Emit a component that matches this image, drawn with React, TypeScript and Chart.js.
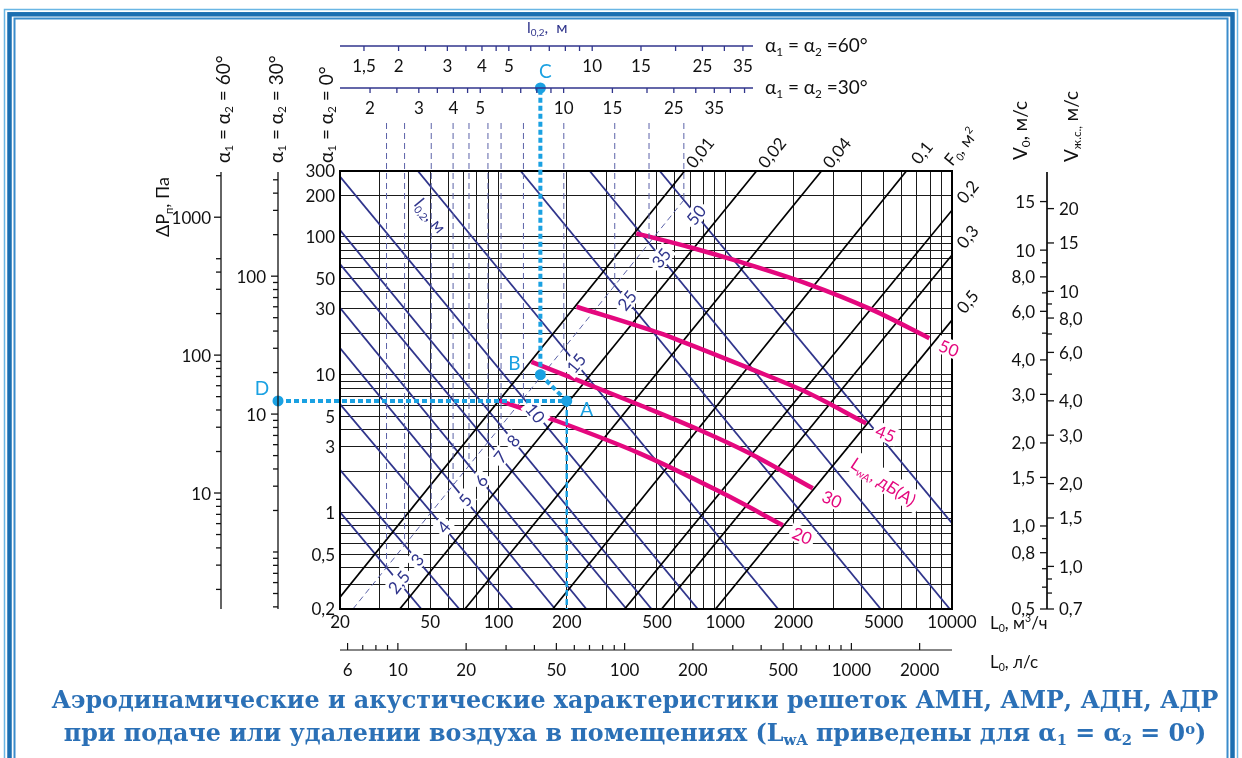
import React, { useEffect, useRef } from 'react';
import { Chart, registerables } from 'chart.js';

Chart.register(...registerables);

// ================= DATA =================
// Main axes: L0, m3/h (x) and ΔP, Pa (y)
const flowRange = [20, 10000];
const pressureRange = [0.2, 300];
const flowGrid = [20, 30, 40, 50, 60, 70, 80, 90, 100, 200, 300, 400, 500, 600, 700, 800, 900, 1000, 2000, 3000, 4000, 5000, 6000, 7000, 8000, 9000, 10000];
const pressureGrid = [0.2, 0.3, 0.4, 0.5, 0.6, 0.7, 0.8, 0.9, 1, 2, 3, 4, 5, 6, 7, 8, 9, 10, 20, 30, 40, 50, 60, 70, 80, 90, 100, 200, 300];
const flowLabels = [20, 50, 100, 200, 500, 1000, 2000, 5000, 10000];
const pressureLabels = [0.2, 0.5, 1, 3, 5, 10, 30, 50, 100, 200, 300];

// L0, l/s axis
const flowLpsRange = [5.556, 2778];
const flowLpsTicks = [6, 7, 8, 9, 10, 20, 30, 40, 50, 60, 70, 80, 90, 100, 200, 300, 400, 500, 600, 700, 800, 900, 1000, 2000];
const flowLpsLabels = [6, 10, 20, 50, 100, 200, 500, 1000, 2000];

// Free area lines F0, m2 (two points [L0, ΔP] each)
const areaValues = [0.01, 0.02, 0.04, 0.1, 0.2, 0.3, 0.5];
const areaFrom = [[20, 0.244], [36.7, 0.2], [71.1, 0.2], [173.5, 0.2], [360, 0.2], [524, 0.2], [906, 0.2]];
const areaTo = [[662, 300], [1374, 300], [2657, 300], [6295, 300], [10000, 156], [10000, 73.8], [10000, 24.9]];

// Throw distance lines l0,2, m (two points [L0, ΔP] each)
const throwValues = [2.5, 3, 4, 5, 6, 7, 8, 10, 15, 25, 35, 50];
const throwFrom = [[20, 1.01], [20, 2.04], [20, 6.13], [20, 15.6], [20, 30.5], [20, 63.5], [20, 112], [20, 273], [44.1, 300], [125.2, 300], [252.5, 300], [514, 300]];
const throwTo = [[45.7, 0.2], [67.2, 0.2], [115.7, 0.2], [177.8, 0.2], [244, 0.2], [367, 0.2], [473, 0.2], [757, 0.2], [1711, 0.2], [4850, 0.2], [9780, 0.2], [10000, 0.84]];
const throwScaleLine = [[22.8, 0.2], [668, 191]];

// Sound power level curves LwA, dB(A)
const noiseLevels = [50, 45, 30, 20];
const noise50 = [[405, 106], [718, 83], [1156, 66], [2275, 46], [4456, 29.5], [7943, 18.4]];
const noise45 = [[221, 31.1], [514, 20.0], [650, 17.3], [1280, 11.1], [2275, 7.49], [4180, 4.44]];
const noise30 = [[139.8, 12.4], [419, 6.03], [771, 3.97], [1280, 2.69], [2432, 1.5]];
const noise20 = [[101, 6.48], [168, 4.83], [419, 2.69], [944, 1.42], [1795, 0.81]];
const noiseCurves = [noise50, noise45, noise30, noise20];
const noiseTitleAt = [4980, 1.67];
const throwTitleAt = [50, 142];

// Worked example
const pointA = [200, 6.45];
const pointB = [153, 10];

// Top l0,2 scales
const throw60Range = [1.229, 199];
const throw60Ticks = [1.5, 2, 2.5, 3, 3.5, 4, 4.5, 5, 6, 7, 8, 9, 10, 15, 20, 25, 30, 35];
const throw60Labels = [1.5, 2, 3, 4, 5, 10, 15, 25, 35];
const throw30Range = [1.558, 252.5];
const throw30Ticks = [2, 2.5, 3, 3.5, 4, 4.5, 5, 6, 7, 8, 9, 10, 15, 20, 25, 30, 35, 40, 45];
const throw30Labels = [2, 3, 4, 5, 10, 15, 25, 35];

// Left ΔP scales for α = 60° and 30°
const p60Range = [1.442, 2163];
const p60Ticks = [2000, 1000, 500, 400, 300, 200, 100, 90, 80, 70, 60, 50, 40, 30, 20, 10, 9, 8, 7, 6, 5, 4, 3, 2];
const p60Labels = [1000, 100, 10];
const p30Range = [0.386, 579];
const p30Ticks = [500, 400, 300, 200, 100, 90, 80, 70, 60, 50, 40, 30, 20, 10, 9, 8, 7, 6, 5, 4, 3, 2, 1, 0.9, 0.8, 0.7, 0.6, 0.5, 0.4];
const p30Labels = [100, 10];

// Right velocity scales
const v0Range = [0.5, 19.36];
const v0Ticks = [15, 10, 9, 8, 7, 6, 5, 4, 3, 2, 1.5, 1, 0.9, 0.8, 0.7, 0.6, 0.5];
const v0Labels = [15, 10, 8, 6, 4, 3, 2, 1.5, 1, 0.8, 0.5];
const vjRange = [0.708, 27.4];
const vjTicks = [20, 15, 10, 9, 8, 7, 6, 5, 4, 3, 2, 1.5, 1, 0.9, 0.8, 0.7];
const vjLabels = [20, 15, 10, 8, 6, 4, 3, 2, 1.5, 1, 0.7];

// ================= STYLE =================
const FONT = 'Lato, "Noto Sans", sans-serif';
const NAVY = '#30358c';
const DASHNAVY = '#5b62a8';
const MAGENTA = '#e4087e';
const CYAN = '#1aa1e2';
const INK = '#111';

const comma = (v: number) => String(v).replace('.', ',');
const oneDec = (v: number) => (v < 10 ? v.toFixed(1).replace('.', ',') : String(v));

type Seg = [string, number?];

function drawRich(ctx: any, segs: Seg[], x: number, y: number, size: number, align: string, color: string) {
  const parts = segs.map(([t, k]) => {
    const sz = k ? size * 0.62 : size;
    ctx.font = `${sz}px ${FONT}`;
    return { t, k: k || 0, sz, w: ctx.measureText(t).width };
  });
  const total = parts.reduce((a, p) => a + p.w, 0);
  let cx = align === 'left' ? x : align === 'center' ? x - total / 2 : x - total;
  ctx.fillStyle = color;
  ctx.textAlign = 'left';
  ctx.textBaseline = 'alphabetic';
  for (const p of parts) {
    ctx.font = `${p.sz}px ${FONT}`;
    const dy = p.k === 1 ? size * 0.2 : p.k === 2 ? -size * 0.42 : 0;
    ctx.fillText(p.t, cx, y + dy);
    cx += p.w;
  }
  return total;
}

function boxedText(ctx: any, text: string, cx: number, cy: number, ang: number, size: number, color: string, box = true) {
  ctx.save();
  ctx.translate(cx, cy);
  ctx.rotate(ang);
  ctx.font = `${size}px ${FONT}`;
  const w = ctx.measureText(text).width;
  if (box) {
    ctx.fillStyle = '#fff';
    ctx.fillRect(-w / 2 - 3, -size * 0.52, w + 6, size * 1.04);
  }
  ctx.fillStyle = color;
  ctx.textAlign = 'center';
  ctx.textBaseline = 'middle';
  ctx.fillText(text, 0, 1);
  ctx.restore();
}

function seg(ctx: any, x1: number, y1: number, x2: number, y2: number) {
  ctx.beginPath();
  ctx.moveTo(x1, y1);
  ctx.lineTo(x2, y2);
  ctx.stroke();
}

function intersect(p1: any, p2: any, q1: any, q2: any) {
  const rx = p2.x - p1.x, ry = p2.y - p1.y, sx = q2.x - q1.x, sy = q2.y - q1.y;
  const den = rx * sy - ry * sx;
  const t = ((q1.x - p1.x) * sy - (q1.y - p1.y) * sx) / den;
  return { x: p1.x + t * rx, y: p1.y + t * ry };
}

function unit(p1: any, p2: any) {
  const dx = p2.x - p1.x, dy = p2.y - p1.y;
  const l = Math.hypot(dx, dy);
  return { x: dx / l, y: dy / l };
}

// layout constants (pixels)
const T60_Y = 46;
const T30_Y = 88;
const TOP_END_X = 753;
const LPS_Y = 650;
const P60_X = 221;
const P30_X = 278;
const V_X = 1047;

const nomoPlugin = {
  id: 'nomo',
  beforeDraw(chart: any) {
    const ctx = chart.ctx;
    const W = chart.width;
    ctx.save();
    ctx.fillStyle = '#fff';
    ctx.fillRect(0, 0, W, chart.height);
    // page frame
    ctx.strokeStyle = '#6ab6e4';
    ctx.lineWidth = 1.5;
    ctx.strokeRect(4.5, 9.5, W - 9, 800);
    ctx.strokeStyle = '#1b6fb1';
    ctx.lineWidth = 4.5;
    ctx.strokeRect(9.5, 14.3, W - 19, 800);
    ctx.strokeStyle = '#3a8ccb';
    ctx.lineWidth = 2;
    ctx.strokeRect(14.5, 18.5, W - 29, 800);
    ctx.restore();
  },
  afterDraw(chart: any) {
    const ctx = chart.ctx;
    const ca = chart.chartArea;
    const S = chart.scales;
    const X = (v: number) => S.x.getPixelForValue(v);
    const Y = (v: number) => S.y.getPixelForValue(v);
    const pt = (a: number[]) => ({ x: X(a[0]), y: Y(a[1]) });
    ctx.save();

    // frame of the plot
    ctx.strokeStyle = '#000';
    ctx.lineWidth = 2;
    ctx.strokeRect(ca.left, ca.top, ca.right - ca.left, ca.bottom - ca.top);

    // throw-distance scale: dashed verticals + labels
    const q1 = pt(throwScaleLine[0]);
    const q2 = pt(throwScaleLine[1]);
    const diagAng = Math.atan2(q2.y - q1.y, q2.x - q1.x);
    const inter = throwValues.map((v, i) => intersect(pt(throwFrom[i]), pt(throwTo[i]), q1, q2));
    ctx.strokeStyle = DASHNAVY;
    ctx.lineWidth = 1;
    ctx.setLineDash([6, 4]);
    inter.forEach((I) => seg(ctx, I.x, ca.top - 48, I.x, I.y));
    ctx.setLineDash([]);
    throwValues.forEach((v, i) => {
      const d = unit(pt(throwFrom[i]), pt(throwTo[i]));
      const I = inter[i];
      const ang = v === 10 ? Math.atan2(d.y, d.x) : diagAng;
      boxedText(ctx, comma(v), I.x + d.x * 19, I.y + d.y * 19, ang, 17, NAVY);
    });

    // l0,2 title along a throw line
    {
      const d = unit(pt(throwFrom[8]), pt(throwTo[8]));
      const c = pt(throwTitleAt);
      ctx.save();
      ctx.translate(c.x, c.y);
      ctx.rotate(Math.atan2(d.y, d.x));
      drawRich(ctx, [['l'], ['0,2', 1], [', м']], 0, 6, 17, 'center', NAVY);
      ctx.restore();
    }

    // F0 labels at the upper ends of the area lines
    areaValues.forEach((v, i) => {
      const a = pt(areaFrom[i]);
      const b = pt(areaTo[i]);
      const d = unit(a, b);
      boxedText(ctx, comma(v), b.x + d.x * 24, b.y + d.y * 24, Math.atan2(d.y, d.x), 17, INK, false);
    });
    ctx.save();
    ctx.translate(ca.right + 9, ca.top - 24);
    ctx.rotate(-0.88);
    drawRich(ctx, [['F'], ['0', 1], [', м'], ['2', 2]], 0, 6, 17, 'center', INK);
    ctx.restore();

    // noise labels
    noiseCurves.forEach((c, i) => {
      const a = pt(c[c.length - 2]);
      const b = pt(c[c.length - 1]);
      const d = unit(a, b);
      boxedText(ctx, String(noiseLevels[i]), b.x + d.x * 22, b.y + d.y * 22, Math.atan2(d.y, d.x) * 0.8, 17, MAGENTA);
    });
    {
      const c = pt(noiseTitleAt);
      ctx.save();
      ctx.translate(c.x, c.y);
      ctx.rotate(0.58);
      ctx.font = `17px ${FONT}`;
      const w = ctx.measureText('LwA, дБ(A)').width;
      ctx.fillStyle = '#fff';
      ctx.fillRect(-w / 2 - 3, -12, w + 6, 22);
      drawRich(ctx, [['L'], ['wA', 1], [', дБ(А)']], 0, 6, 17, 'center', MAGENTA);
      ctx.restore();
    }

    // worked example (A, B, C, D)
    const A = pt(pointA);
    const B = pt(pointB);
    const C = { x: B.x, y: T30_Y };
    const D = { x: P30_X, y: A.y };
    ctx.strokeStyle = CYAN;
    ctx.lineWidth = 2.5;
    ctx.setLineDash([6, 3]);
    seg(ctx, A.x, A.y, A.x, ca.bottom);
    ctx.lineWidth = 4;
    ctx.setLineDash([5, 3]);
    seg(ctx, D.x, D.y, A.x, A.y);
    seg(ctx, A.x, A.y, B.x, B.y);
    seg(ctx, B.x, B.y, C.x, C.y);
    ctx.setLineDash([]);
    ctx.fillStyle = CYAN;
    [A, B, C, D].forEach((p) => {
      ctx.beginPath();
      ctx.arc(p.x, p.y, 5.5, 0, Math.PI * 2);
      ctx.fill();
    });
    ctx.font = `19px ${FONT}`;
    ctx.textAlign = 'center';
    ctx.textBaseline = 'middle';
    ctx.fillText('A', A.x + 20, A.y + 9);
    ctx.fillText('B', B.x - 26, B.y - 11);
    ctx.fillText('C', C.x + 5, C.y - 16);
    ctx.fillText('D', D.x - 16, D.y - 12);

    // ---------- external axes ----------
    ctx.fillStyle = INK;
    ctx.strokeStyle = INK;
    ctx.lineWidth = 1.2;
    ctx.font = `17px ${FONT}`;

    // main ΔP labels
    ctx.textAlign = 'right';
    ctx.textBaseline = 'middle';
    pressureLabels.forEach((v) => ctx.fillText(comma(v), ca.left - 5, Y(v) + 1));
    // main L0 labels
    ctx.textAlign = 'center';
    flowLabels.forEach((v) => ctx.fillText(String(v), X(v), ca.bottom + 14));

    // L0 l/s axis
    const sl = S.lps;
    seg(ctx, ca.left, LPS_Y, ca.right, LPS_Y);
    flowLpsTicks.forEach((v) => {
      const x = sl.getPixelForValue(v);
      seg(ctx, x, LPS_Y, x, LPS_Y - (flowLpsLabels.includes(v) ? 7 : 5));
    });
    flowLpsLabels.forEach((v) => ctx.fillText(String(v), sl.getPixelForValue(v), LPS_Y + 21));
    drawRich(ctx, [['L'], ['0', 1], [', м'], ['3', 2], ['/ч']], ca.right + 38, ca.bottom + 20, 17, 'left', INK);
    drawRich(ctx, [['L'], ['0', 1], [', л/с']], ca.right + 38, LPS_Y + 18, 17, 'left', INK);

    // top l0,2 scales
    const topAxis = (sc: any, y: number, ticks: number[], labels: number[]) => {
      ctx.strokeStyle = NAVY;
      ctx.lineWidth = 1.3;
      seg(ctx, ca.left, y, TOP_END_X, y);
      ticks.forEach((v) => {
        const x = sc.getPixelForValue(v);
        seg(ctx, x, y, x, y + 5);
      });
      ctx.fillStyle = INK;
      ctx.font = `17px ${FONT}`;
      ctx.textAlign = 'center';
      ctx.textBaseline = 'middle';
      labels.forEach((v) => ctx.fillText(comma(v), sc.getPixelForValue(v), y + 21));
    };
    topAxis(S.t60, T60_Y, throw60Ticks, throw60Labels);
    topAxis(S.t30, T30_Y, throw30Ticks, throw30Labels);
    drawRich(ctx, [['l'], ['0,2', 1], [',  м']], 527, 33, 16, 'left', NAVY);
    drawRich(ctx, [['α'], ['1', 1], [' = α'], ['2', 1], [' =60°']], 765, T60_Y + 6, 19, 'left', INK);
    drawRich(ctx, [['α'], ['1', 1], [' = α'], ['2', 1], [' =30°']], 765, T30_Y + 6, 19, 'left', INK);

    // vertical axes helper
    const vAxis = (sc: any, x: number, ticks: number[], labels: number[], side: number, fmt: any, gap: number) => {
      ctx.strokeStyle = INK;
      ctx.lineWidth = 1.3;
      seg(ctx, x, ca.top + 1, x, ca.bottom);
      ticks.forEach((v) => {
        const y = sc.getPixelForValue(v);
        seg(ctx, x, y, x + side * (labels.includes(v) ? 7 : 5), y);
      });
      ctx.fillStyle = INK;
      ctx.font = `17px ${FONT}`;
      ctx.textAlign = side < 0 ? 'right' : 'left';
      ctx.textBaseline = 'middle';
      labels.forEach((v) => ctx.fillText(fmt(v), x + side * gap, sc.getPixelForValue(v) + 1));
    };
    vAxis(S.p60, P60_X, p60Ticks, p60Labels, -1, String, 10);
    vAxis(S.p30, P30_X, p30Ticks, p30Labels, -1, String, 12);
    vAxis(S.v0, V_X, v0Ticks, v0Labels, -1, oneDec, 12);
    vAxis(S.vj, V_X, vjTicks, vjLabels, 1, oneDec, 12);

    // rotated titles
    const vTitle = (segs: Seg[], x: number, yBottom: number, size: number) => {
      ctx.save();
      ctx.translate(x, yBottom);
      ctx.rotate(-Math.PI / 2);
      drawRich(ctx, segs, 0, size * 0.35, size, 'left', INK);
      ctx.restore();
    };
    vTitle([['α'], ['1', 1], [' = α'], ['2', 1], [' = 60°']], P60_X + 2, 163, 19);
    vTitle([['α'], ['1', 1], [' = α'], ['2', 1], [' = 30°']], P30_X - 2, 163, 19);
    vTitle([['α'], ['1', 1], [' = α'], ['2', 1], [' = 0°']], ca.left - 14, 163, 19);
    vTitle([['ΔP'], ['п', 1], [', Па']], 163, 237, 18);
    vTitle([['V'], ['0', 1], [', м/с']], V_X - 27, 160, 19);
    vTitle([['V'], ['ж.с.,', 1], [' м/с']], V_X + 24, 162, 19);

    ctx.restore();
  },
};

function gridColor(ctx: any) {
  return '#1a1a1a';
}

export default function App() {
  const ref = useRef<HTMLCanvasElement>(null);
  useEffect(() => {
    const xy = (a: number[]) => ({ x: a[0], y: a[1] });
    const datasets: any[] = [];
    noiseCurves.forEach((c) =>
      datasets.push({
        data: c.map(xy),
        borderColor: MAGENTA,
        borderWidth: 4.5,
        showLine: true,
        pointRadius: 0,
        cubicInterpolationMode: 'monotone',
        order: 0,
      })
    );
    areaValues.forEach((v, i) =>
      datasets.push({
        data: [xy(areaFrom[i]), xy(areaTo[i])],
        borderColor: '#000',
        borderWidth: 1.7,
        showLine: true,
        pointRadius: 0,
        order: 1,
      })
    );
    throwValues.forEach((v, i) =>
      datasets.push({
        data: [xy(throwFrom[i]), xy(throwTo[i])],
        borderColor: NAVY,
        borderWidth: 1.8,
        showLine: true,
        pointRadius: 0,
        order: 2,
      })
    );
    datasets.push({
      data: throwScaleLine.map(xy),
      borderColor: DASHNAVY,
      borderWidth: 1,
      borderDash: [6, 4],
      showLine: true,
      pointRadius: 0,
      order: 3,
    });

    const hidden = (position: string, range: number[]) => ({
      type: 'logarithmic',
      position,
      display: false,
      min: range[0],
      max: range[1],
    });

    const chart = new Chart(ref.current as HTMLCanvasElement, {
      type: 'scatter',
      data: { datasets },
      options: {
        animation: false,
        responsive: false,
        devicePixelRatio: 1,
        events: [],
        layout: { padding: { left: 340, right: 290, top: 171, bottom: 149 } },
        plugins: { legend: { display: false }, tooltip: { enabled: false }, title: { display: false } },
        scales: {
          x: {
            type: 'logarithmic',
            position: 'bottom',
            min: flowRange[0],
            max: flowRange[1],
            afterBuildTicks: (s: any) => {
              s.ticks = flowGrid.map((v) => ({ value: v }));
            },
            afterFit: (s: any) => {
              s.height = 0;
            },
            ticks: { display: false, autoSkip: false },
            grid: { drawTicks: false, color: gridColor, lineWidth: 1 },
            border: { display: false },
          },
          y: {
            type: 'logarithmic',
            position: 'left',
            min: pressureRange[0],
            max: pressureRange[1],
            afterBuildTicks: (s: any) => {
              s.ticks = pressureGrid.map((v) => ({ value: v }));
            },
            afterFit: (s: any) => {
              s.width = 0;
            },
            ticks: { display: false, autoSkip: false },
            grid: { drawTicks: false, color: gridColor, lineWidth: 1 },
            border: { display: false },
          },
          lps: hidden('bottom', flowLpsRange),
          t60: hidden('top', throw60Range),
          t30: hidden('top', throw30Range),
          p60: hidden('left', p60Range),
          p30: hidden('left', p30Range),
          v0: hidden('right', v0Range),
          vj: hidden('right', vjRange),
        } as any,
      },
      plugins: [nomoPlugin],
    } as any);
    return () => chart.destroy();
  }, []);

  const titleStyle: any = {
    position: 'absolute',
    left: 14,
    top: 684,
    width: 1242,
    textAlign: 'center',
    fontFamily: '"DejaVu Serif", serif',
    fontWeight: 'bold',
    fontSize: 23.8,
    lineHeight: '33px',
    color: '#2b70b6',
    whiteSpace: 'nowrap',
  };
  const sub: any = { fontSize: '0.62em', verticalAlign: '-0.25em', lineHeight: 0 };
  const sup: any = { fontSize: '0.62em', verticalAlign: '0.5em', lineHeight: 0 };

  return (
    <div style={{ position: 'fixed', left: 0, top: 0, width: 1242, height: 758, background: '#fff', overflow: 'hidden' }}>
      <canvas ref={ref} width={1242} height={758} style={{ position: 'absolute', left: 0, top: 0, display: 'block' }} />
      <div style={titleStyle}>
        <div>Аэродинамические и акустические характеристики решеток АМН, АМР, АДН, АДР</div>
        <div>
          при подаче или удалении воздуха в помещениях (L<span style={sub}>wA</span> приведены для α<span style={sub}>1</span> = α
          <span style={sub}>2</span> = 0<span style={sup}>o</span>)
        </div>
      </div>
    </div>
  );
}
